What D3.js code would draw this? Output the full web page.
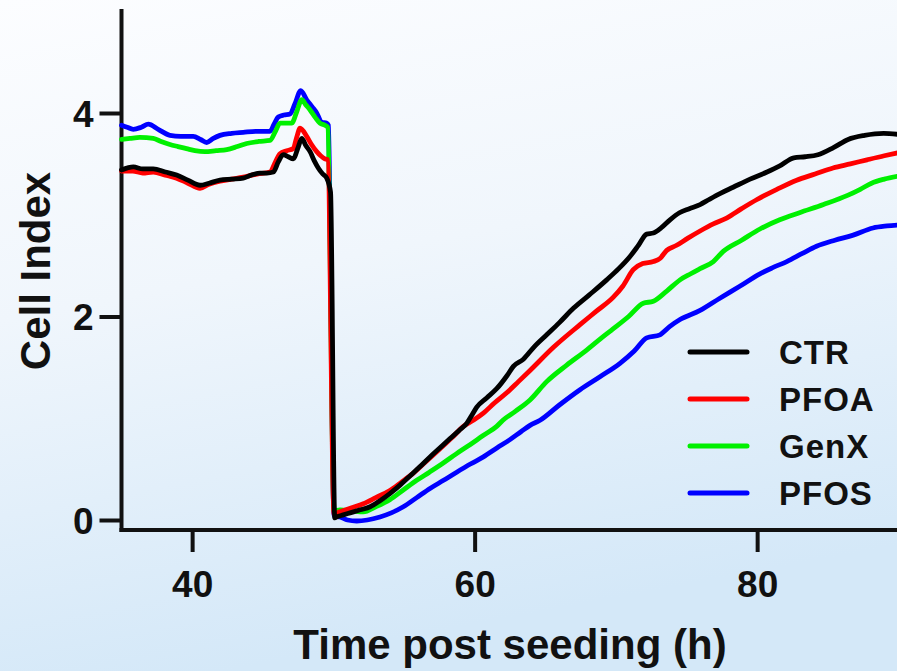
<!DOCTYPE html>
<html>
<head>
<meta charset="utf-8">
<script src="https://cdn.jsdelivr.net/npm/d3@7"></script>
<style>
  html, body { margin: 0; padding: 0; overflow: hidden; }
  svg { display: block; }
  text { font-family: "Liberation Sans", Arial, sans-serif; font-weight: bold; fill: #111; }
</style>
</head>
<body>
<script>
// ---- data ----
const seriesNames = ["CTR", "PFOA", "GenX", "PFOS"];
const xTicks = [40, 60, 80];
const yTicks = [0, 2, 4];

const ctr = [[35.0,3.44],[35.84,3.47],[36.5,3.45],[37.25,3.45],[38.1,3.42],[38.9,3.39],[39.7,3.34],[40.56,3.29],[41.2,3.31],[41.97,3.34],[42.8,3.35],[43.62,3.36],[44.2,3.39],[44.8,3.41],[45.3,3.41],[45.75,3.42],[46.1,3.52],[46.45,3.59],[46.8,3.57],[47.16,3.55],[47.5,3.66],[47.76,3.75],[48.05,3.68],[48.35,3.62],[48.65,3.53],[48.93,3.46],[49.25,3.40],[49.53,3.36],[49.8,3.22],[50.1,0.02],[50.24,0.03],[50.7,0.05],[51.18,0.07],[51.9,0.10],[52.6,0.13],[53.3,0.19],[54.0,0.26],[54.7,0.34],[55.4,0.43],[56.1,0.52],[56.84,0.62],[57.55,0.71],[58.26,0.80],[58.9,0.88],[59.44,0.95],[59.8,1.03],[60.15,1.11],[60.85,1.20],[61.56,1.29],[62.3,1.42],[62.74,1.51],[63.45,1.58],[64.2,1.70],[65.1,1.82],[66.0,1.94],[66.99,2.08],[68.1,2.21],[69.35,2.36],[70.2,2.47],[71.0,2.59],[71.6,2.70],[72.18,2.81],[72.65,2.82],[73.2,2.87],[73.83,2.95],[74.5,3.02],[75.2,3.06],[75.96,3.10],[76.6,3.15],[77.4,3.21],[78.3,3.27],[79.5,3.35],[80.7,3.42],[81.6,3.48],[82.6,3.56],[83.4,3.57],[84.3,3.59],[85.4,3.66],[86.44,3.74],[87.6,3.78],[88.96,3.80],[90,3.79]];

const pfoa = [[35,3.43],[35.8,3.43],[36.5,3.41],[37.25,3.42],[38.1,3.39],[38.9,3.36],[39.7,3.31],[40.56,3.26],[41.2,3.30],[41.97,3.33],[42.8,3.35],[43.62,3.37],[44.6,3.40],[45.51,3.42],[45.9,3.52],[46.22,3.60],[46.7,3.63],[47.16,3.65],[47.4,3.76],[47.64,3.85],[48.11,3.77],[48.45,3.69],[48.82,3.62],[49.1,3.58],[49.4,3.55],[49.6,3.54],[50.05,0.06],[50.47,0.08],[51.3,0.12],[52.12,0.16],[53.0,0.22],[54.0,0.29],[54.8,0.37],[55.66,0.46],[56.6,0.58],[57.55,0.70],[58.4,0.81],[59.2,0.92],[59.9,0.98],[60.62,1.05],[61.4,1.15],[62.27,1.25],[63.1,1.36],[63.92,1.47],[65.6,1.70],[67.46,1.92],[68.6,2.05],[69.82,2.19],[70.5,2.30],[71.23,2.46],[71.9,2.52],[72.65,2.54],[73.12,2.57],[73.6,2.65],[74.3,2.70],[75.1,2.77],[75.96,2.84],[76.9,2.91],[77.87,2.97],[78.9,3.06],[79.99,3.15],[81.4,3.25],[82.8,3.34],[84.1,3.40],[85.37,3.46],[86.6,3.50],[87.78,3.54],[89,3.58],[90,3.61]];

const genx = [[35,3.74],[35.6,3.75],[36.3,3.76],[37.25,3.75],[37.8,3.72],[38.43,3.69],[39.0,3.67],[39.6,3.65],[40.2,3.63],[40.9,3.62],[41.7,3.63],[42.45,3.64],[43.2,3.67],[43.86,3.70],[44.7,3.72],[45.51,3.73],[45.9,3.82],[46.22,3.90],[46.6,3.90],[47.05,3.90],[47.4,4.01],[47.76,4.13],[48.05,4.08],[48.35,4.03],[48.7,3.96],[49.05,3.90],[49.4,3.88],[49.6,3.86],[50.05,0.09],[50.47,0.10],[51.3,0.09],[52.12,0.08],[53.0,0.13],[54.0,0.20],[54.9,0.29],[55.9,0.39],[56.8,0.47],[57.78,0.56],[58.7,0.65],[59.67,0.74],[60.6,0.83],[61.56,0.92],[62.0,0.98],[62.9,1.07],[63.92,1.18],[65.1,1.36],[66.5,1.52],[67.93,1.67],[68.9,1.78],[69.82,1.88],[70.9,2.00],[71.94,2.13],[72.65,2.15],[73.6,2.25],[74.54,2.36],[75.3,2.42],[75.96,2.47],[76.9,2.54],[77.6,2.64],[78.9,2.75],[80.2,2.86],[81.6,2.95],[83.0,3.02],[84.7,3.10],[86.4,3.19],[87.3,3.25],[88.1,3.31],[89,3.35],[90,3.38]];

const pfos = [[35,3.88],[35.4,3.86],[35.83,3.84],[36.4,3.86],[36.9,3.89],[37.6,3.84],[38.43,3.78],[39.2,3.77],[40.08,3.77],[40.6,3.74],[41.03,3.71],[41.5,3.75],[41.97,3.78],[42.8,3.80],[43.62,3.81],[44.5,3.82],[45.51,3.82],[45.8,3.89],[46.1,3.96],[46.5,3.98],[46.93,3.99],[47.28,4.09],[47.69,4.22],[48.11,4.13],[48.5,4.06],[48.82,4.00],[49.17,3.91],[49.53,3.90],[49.64,3.88],[50.05,0.04],[50.47,0.03],[51.0,0.00],[51.65,-0.01],[52.4,0.00],[53.3,0.03],[54.1,0.07],[54.95,0.13],[55.9,0.22],[56.84,0.31],[57.8,0.39],[58.73,0.47],[59.7,0.55],[60.62,0.62],[61.6,0.71],[62.5,0.79],[63.3,0.87],[63.92,0.93],[64.63,0.98],[66.0,1.13],[67.46,1.28],[68.9,1.41],[70.29,1.54],[71.3,1.66],[72.18,1.79],[73.12,1.82],[73.8,1.90],[74.54,1.97],[75.96,2.06],[77.36,2.18],[78.8,2.30],[80.2,2.42],[81.1,2.48],[82.1,2.54],[83.2,2.62],[84.2,2.69],[85.5,2.75],[86.8,2.80],[88.2,2.87],[89.2,2.89],[90,2.90]];

const seriesData = [ctr, pfoa, genx, pfos];
const seriesColors = ["#000000", "#ff0000", "#00f000", "#0000ff"];

// ---- layout ----
const W = 897, H = 671;
const svg = d3.select("body").append("svg").attr("width", W).attr("height", H);

const defs = svg.append("defs");
const grad = defs.append("linearGradient").attr("id", "bg")
  .attr("x1", "0").attr("y1", "0").attr("x2", "0.25").attr("y2", "1");
grad.append("stop").attr("offset", "0").attr("stop-color", "#fcfdff");
grad.append("stop").attr("offset", "0.45").attr("stop-color", "#f0f6fc");
grad.append("stop").attr("offset", "1").attr("stop-color", "#d4e8f8");
svg.append("rect").attr("width", W).attr("height", H).attr("fill", "url(#bg)");

const x = d3.scaleLinear().domain([35, 90]).range([121.5, 898.4]);
const y = d3.scaleLinear().domain([0, 5]).range([520, 11.25]);

const axisW = 4;
const axisY0 = 530;

// y axis
const yAxis = d3.axisLeft(y).tickValues(yTicks).tickSize(22).tickPadding(5).tickFormat(d3.format("d"));
const gy = svg.append("g").attr("transform", `translate(${x(35)},0)`).call(yAxis);
gy.select(".domain").remove();
gy.selectAll(".tick line").attr("stroke", "#111").attr("stroke-width", axisW);
gy.selectAll(".tick text").style("font-size", "37px").attr("x", -28).attr("dy", "0.36em").attr("fill", "#111");
svg.append("line").attr("x1", x(35)).attr("x2", x(35)).attr("y1", 9).attr("y2", axisY0 + 2)
  .attr("stroke", "#111").attr("stroke-width", axisW);

// x axis
const xAxis = d3.axisBottom(x).tickValues(xTicks).tickSize(22).tickPadding(8).tickFormat(d3.format("d"));
const gx = svg.append("g").attr("transform", `translate(0,${axisY0})`).call(xAxis);
gx.select(".domain").remove();
gx.selectAll(".tick line").attr("stroke", "#111").attr("stroke-width", axisW);
gx.selectAll(".tick text").style("font-size", "37px").attr("y", 41).attr("dy", "0.71em").attr("fill", "#111");
svg.append("line").attr("x1", x(35) - 2).attr("x2", W).attr("y1", axisY0).attr("y2", axisY0)
  .attr("stroke", "#111").attr("stroke-width", axisW);

// axis titles
svg.append("text").attr("x", 510).attr("y", 659).attr("text-anchor", "middle")
  .style("font-size", "42px").text("Time post seeding (h)");
svg.append("text").attr("transform", "translate(50,271) rotate(-90)").attr("text-anchor", "middle")
  .style("font-size", "42px").text("Cell Index");

// lines
const line = d3.line().x(d => x(d[0])).y(d => y(d[1])).curve(d3.curveMonotoneX);
const order = [3, 2, 1, 0];
order.forEach(i => {
  svg.append("path").datum(seriesData[i]).attr("d", line)
    .attr("fill", "none").attr("stroke", seriesColors[i]).attr("stroke-width", 4.8)
    .attr("stroke-linejoin", "round").attr("stroke-linecap", "round");
});

// legend
const legY = [352, 399, 446, 493];
seriesNames.forEach((n, i) => {
  svg.append("line").attr("x1", 690).attr("x2", 747).attr("y1", legY[i]).attr("y2", legY[i])
    .attr("stroke", seriesColors[i]).attr("stroke-width", 5).attr("stroke-linecap", "round");
  svg.append("text").attr("x", 779).attr("y", legY[i] + 12).style("font-size", "33px")
    .style("letter-spacing", "1px").text(n);
});
</script>
</body>
</html>
